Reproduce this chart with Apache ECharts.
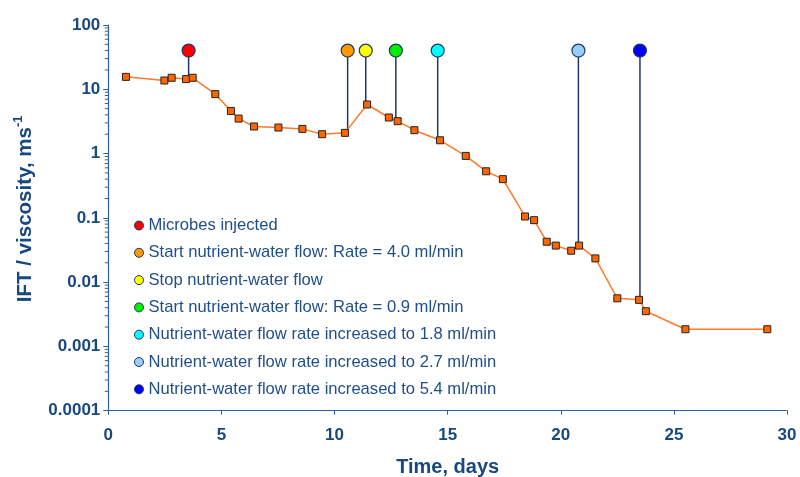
<!DOCTYPE html>
<html>
<head>
<meta charset="utf-8">
<script src="https://cdn.jsdelivr.net/npm/echarts@6/dist/echarts.min.js"></script>
<style>html,body{margin:0;padding:0;background:#fff}#c{width:800px;height:477px}</style>
</head>
<body>
<div id="c"></div>
<script>
// Measured data (Time, days ; IFT / viscosity)
var days = [0.78, 2.48, 2.80, 3.44, 3.73, 4.73, 5.42, 5.76, 6.44, 7.52, 8.58, 9.45, 10.46, 11.44, 12.40, 12.79, 13.53, 14.66, 15.80, 16.70, 17.44, 18.42, 18.82, 19.38, 19.78, 20.46, 20.81, 21.53, 22.50, 23.46, 23.76, 25.51, 29.13];
var values = [15.6, 13.7, 15.1, 14.4, 15.1, 8.4, 4.6, 3.5, 2.64, 2.54, 2.42, 2.0, 2.1, 5.8, 3.64, 3.19, 2.31, 1.61, 0.92, 0.53, 0.40, 0.105, 0.092, 0.0425, 0.037, 0.0308, 0.037, 0.0234, 0.0056, 0.0053, 0.00353, 0.00185, 0.00185];

// Events: name, day, marker level, end of drop line, fill colour
var eventNames = [
  'Microbes injected',
  'Start nutrient-water flow: Rate = 4.0 ml/min',
  'Stop nutrient-water flow',
  'Start nutrient-water flow: Rate = 0.9 ml/min',
  'Nutrient-water flow rate increased to 1.8 ml/min',
  'Nutrient-water flow rate increased to 2.7 ml/min',
  'Nutrient-water flow rate increased to 5.4 ml/min'
];
var eventDays = [3.55, 10.58, 11.38, 12.71, 14.56, 20.78, 23.5];
var eventTop = [40, 40, 40, 40, 40, 40, 40];
var eventEnd = [15, 2.1, 5.6, 3.3, 1.68, 0.037, 0.0053];
var eventColors = ['#FF0000', '#FF9900', '#FFFF00', '#00EE00', '#00FFFF', '#99CCFF', '#0000FF'];

var yTickLabels = ['0.0001', '0.001', '0.01', '0.1', '1', '10', '100'];
var xTicks = [0, 5, 10, 15, 20, 25, 30];
var minorMultipliers = [2, 3, 4, 5, 6, 7, 8, 9];
var minorDecades = [0.0001, 0.001, 0.01, 0.1, 1, 10];

var axisColor = '#2F5F9E';
var textColor = '#17487F';
var navy = '#1F3864';
var font = 'Liberation Sans';

var minorTickValues = [];
minorDecades.forEach(function (d) { minorMultipliers.forEach(function (m) { minorTickValues.push([0, m * d]); }); });

var series = [];
eventNames.forEach(function (n, i) {
  series.push({
    name: n,
    type: 'line',
    z: 3,
    symbol: 'circle',
    symbolSize: 13,
    itemStyle: { color: eventColors[i], borderColor: navy, borderWidth: 1.2 },
    lineStyle: { color: navy, width: 1.5 },
    emphasis: { disabled: true },
    data: [
      { value: [eventDays[i], eventTop[i]] },
      { value: [eventDays[i], eventEnd[i]], symbol: 'none' }
    ]
  });
});
series.push({
  name: 'data',
  type: 'line',
  z: 5,
  symbol: 'rect',
  symbolSize: 7,
  itemStyle: { color: '#FF6600', borderColor: '#222222', borderWidth: 1 },
  lineStyle: { color: '#FF7A2A', width: 1.5 },
  data: days.map(function (d, i) { return [d, values[i]]; })
});
series.push({
  name: 'minorTicks',
  type: 'custom',
  silent: true,
  clip: false,
  z: 6,
  data: minorTickValues,
  renderItem: function (params, api) {
    var p = api.coord([api.value(0), api.value(1)]);
    return { type: 'line', shape: { x1: p[0] - 3.5, y1: p[1], x2: p[0], y2: p[1] }, style: { stroke: axisColor, lineWidth: 1 } };
  }
});

var chart = echarts.init(document.getElementById('c'), null, { renderer: 'canvas' });
chart.setOption({
  animation: false,
  backgroundColor: '#ffffff',
  grid: { left: 108.3, right: 13, top: 25, bottom: 66.3, containLabel: false, outerBoundsMode: 'none' },
  legend: {
    data: eventNames,
    orient: 'vertical',
    left: 134,
    top: 217,
    padding: 0,
    itemGap: 10.3,
    itemWidth: 9,
    itemHeight: 9,
    icon: 'circle',
    itemStyle: { borderColor: navy, borderWidth: 1 },
    selectedMode: false,
    textStyle: { color: '#1F4E8C', fontSize: 16.6, fontFamily: font, lineHeight: 16 }
  },
  xAxis: {
    type: 'value',
    min: 0, max: 30, interval: 5,
    name: 'Time, days',
    nameLocation: 'middle',
    nameGap: 47,
    nameTextStyle: { color: textColor, fontSize: 20, fontWeight: 'bold', fontFamily: font },
    axisLine: { lineStyle: { color: axisColor, width: 1.2 } },
    axisTick: { show: true, length: 4, inside: false, lineStyle: { color: axisColor } },
    axisLabel: { color: textColor, fontSize: 17, fontWeight: 'bold', fontFamily: font, margin: 16,
      formatter: function (v) { return xTicks.indexOf(v) >= 0 ? String(v) : ''; } },
    splitLine: { show: false }
  },
  yAxis: {
    type: 'log',
    logBase: 10,
    min: 0.0001, max: 100,
    name: '{a|IFT / viscosity, ms}{b|-1}',
    nameLocation: 'middle',
    nameGap: 70,
    nameRotate: 90,
    nameTextStyle: {
      padding: [0, 0, 0, 18],
      rich: {
        a: { color: textColor, fontSize: 20.5, fontWeight: 'bold', fontFamily: font, lineHeight: 26 },
        b: { color: textColor, fontSize: 13, fontWeight: 'bold', fontFamily: font, verticalAlign: 'top', lineHeight: 26 }
      }
    },
    axisLine: { show: true, lineStyle: { color: axisColor, width: 1.2 } },
    axisTick: { show: true, length: 5, inside: false, lineStyle: { color: axisColor } },
    minorTick: { show: false },
    axisLabel: { color: textColor, fontSize: 17, fontWeight: 'bold', fontFamily: font, margin: 8,
      formatter: function (v) { var k = Math.round(Math.log10(v)) + 4; return yTickLabels[k] || ''; } },
    splitLine: { show: false }
  },
  series: series
});
</script>
</body>
</html>
